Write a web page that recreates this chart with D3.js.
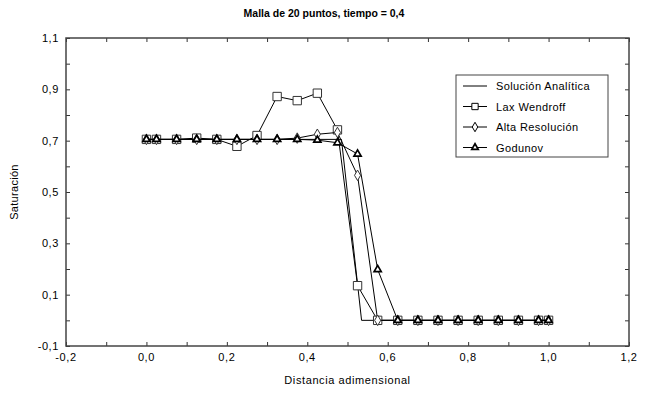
<!doctype html>
<html>
<head>
  <style>
    body { margin: 0; background: #fff; }
    text { font-family: "Liberation Sans", Arial, sans-serif; fill: #000; }
  </style>
  <script src="https://cdn.jsdelivr.net/npm/d3@7"></script>
</head>
<body>
  <script>
  // grid points used by the numerical schemes
  var xPts = [0, 0.025, 0.075, 0.125, 0.175, 0.225, 0.275, 0.325, 0.375, 0.425, 0.475,
              0.525, 0.575, 0.625, 0.675, 0.725, 0.775, 0.825, 0.875, 0.925, 0.975, 1.0];
  var laxWendroff = [0.705, 0.705, 0.705, 0.71, 0.705, 0.678, 0.72, 0.872, 0.856, 0.885, 0.742,
                     0.135, 0.0, 0, 0, 0, 0, 0, 0, 0, 0, 0];
  var altaRes     = [0.705, 0.705, 0.705, 0.705, 0.705, 0.705, 0.705, 0.705, 0.71, 0.725, 0.732,
                     0.565, 0.0, 0, 0, 0, 0, 0, 0, 0, 0, 0];
  var godunov     = [0.705, 0.705, 0.705, 0.705, 0.705, 0.705, 0.705, 0.705, 0.705, 0.702, 0.692,
                     0.648, 0.198, 0.0, 0, 0, 0, 0, 0, 0, 0, 0];
  // analytic solution (shock)
  var anaX = [0, 0.485, 0.535, 1.0];
  var anaY = [0.705, 0.705, 0, 0];

  var xTicks = [-0.2, 0.0, 0.2, 0.4, 0.6, 0.8, 1.0, 1.2];
  var yTicks = [-0.1, 0.1, 0.3, 0.5, 0.7, 0.9, 1.1];
  var legendNames = ["Solución Analítica", "Lax Wendroff", "Alta Resolución", "Godunov"];

  var W = 648, H = 394;
  var pL = 66, pR = 629, pT = 38, pB = 346;

  var svg = d3.select("body").append("svg")
    .attr("width", W).attr("height", H);

  var x = d3.scaleLinear().domain([-0.2, 1.2]).range([pL, pR]);
  var y = d3.scaleLinear().domain([-0.1, 1.1]).range([pB, pT]);

  var fmt = function(d) { return d3.format(".1f")(d).replace(".", ",").replace("−", "-"); };
  var minorX = d3.range(-0.2, 1.2001, 0.1);
  var minorY = d3.range(-0.1, 1.1001, 0.1);

  // title
  svg.append("text")
    .attr("x", 324).attr("y", 17)
    .attr("text-anchor", "middle")
    .attr("font-size", "10.5px").attr("font-weight", "bold")
    .text("Malla de 20 puntos, tiempo = 0,4");

  // axes (ticks inside on all four sides)
  svg.append("g").attr("transform", "translate(0," + pB + ")")
    .call(d3.axisBottom(x).tickValues(minorX).tickSize(-4).tickFormat(""));
  svg.append("g").attr("transform", "translate(0," + pT + ")")
    .call(d3.axisTop(x).tickValues(minorX).tickSize(-4).tickFormat(""));
  svg.append("g").attr("transform", "translate(" + pL + ",0)")
    .call(d3.axisLeft(y).tickValues(minorY).tickSize(-4).tickFormat(""));
  svg.append("g").attr("transform", "translate(" + pR + ",0)")
    .call(d3.axisRight(y).tickValues(minorY).tickSize(-4).tickFormat(""));
  svg.selectAll(".domain").remove();
  svg.selectAll(".tick line").attr("stroke", "#333");

  svg.append("rect")
    .attr("x", pL).attr("y", pT)
    .attr("width", pR - pL).attr("height", pB - pT)
    .attr("fill", "none").attr("stroke", "#444").attr("stroke-width", 1.5);

  // tick labels
  svg.selectAll(".xlab").data(xTicks).enter().append("text")
    .attr("x", function(d) { return x(d); })
    .attr("y", pB + 15)
    .attr("text-anchor", "middle")
    .attr("font-size", "11px").attr("letter-spacing", "0.6px")
    .text(fmt);
  svg.selectAll(".ylab").data(yTicks).enter().append("text")
    .attr("x", pL - 7)
    .attr("y", function(d) { return y(d) + 4; })
    .attr("text-anchor", "end")
    .attr("font-size", "11px").attr("letter-spacing", "0.6px")
    .text(fmt);

  // axis titles
  svg.append("text")
    .attr("x", (pL + pR) / 2).attr("y", 384)
    .attr("text-anchor", "middle")
    .attr("font-size", "11px").attr("letter-spacing", "0.6px")
    .text("Distancia adimensional");
  svg.append("text")
    .attr("transform", "translate(18," + ((pT + pB) / 2) + ") rotate(-90)")
    .attr("text-anchor", "middle")
    .attr("font-size", "11px").attr("letter-spacing", "0.3px")
    .text("Saturación");

  var line = d3.line().x(function(d) { return x(d[0]); }).y(function(d) { return y(d[1]); });

  // analytic
  svg.append("path")
    .datum(d3.zip(anaX, anaY))
    .attr("d", line)
    .attr("fill", "none").attr("stroke", "#000").attr("stroke-width", 1);

  var sqr = d3.symbol().type(d3.symbolSquare).size(70);
  var dia = d3.symbol().type(d3.symbolDiamond).size(32);
  var tri = d3.symbol().type(d3.symbolTriangle).size(22);

  var series = [
    { vals: laxWendroff, sym: sqr, sw: 1, stroke: "#333" },
    { vals: altaRes, sym: dia, sw: 1, stroke: "#333" },
    { vals: godunov, sym: tri, sw: 1.7, stroke: "#000" }
  ];

  series.forEach(function(s) {
    var pts = d3.zip(xPts, s.vals);
    svg.append("path")
      .datum(pts)
      .attr("d", line)
      .attr("fill", "none").attr("stroke", "#000").attr("stroke-width", 1);
    svg.append("g").selectAll("path").data(pts).enter().append("path")
      .attr("transform", function(d) { return "translate(" + x(d[0]) + "," + y(d[1]) + ")"; })
      .attr("d", s.sym)
      .attr("fill", "#fff").attr("stroke", s.stroke).attr("stroke-width", s.sw);
  });

  // legend
  var lg = svg.append("g");
  lg.append("rect")
    .attr("x", 456).attr("y", 75).attr("width", 152).attr("height", 82)
    .attr("fill", "#fff").attr("stroke", "#444").attr("stroke-width", 1);
  var syms = [null,
    d3.symbol().type(d3.symbolSquare).size(40),
    d3.symbol().type(d3.symbolDiamond).size(26),
    d3.symbol().type(d3.symbolTriangle).size(18)];
  var sws = [1, 1, 1, 1.7];
  legendNames.forEach(function(n, i) {
    var ly = 86 + i * 20.5;
    lg.append("line")
      .attr("x1", 463).attr("x2", 487).attr("y1", ly).attr("y2", ly)
      .attr("stroke", "#000").attr("stroke-width", 1);
    if (syms[i]) {
      lg.append("path")
        .attr("transform", "translate(475," + ly + ")")
        .attr("d", syms[i])
        .attr("fill", "#fff").attr("stroke", "#000").attr("stroke-width", sws[i]);
    }
    lg.append("text")
      .attr("x", 496).attr("y", ly + 4)
      .attr("font-size", "11px").attr("letter-spacing", "0.4px")
      .text(n);
  });
  </script>
</body>
</html>
